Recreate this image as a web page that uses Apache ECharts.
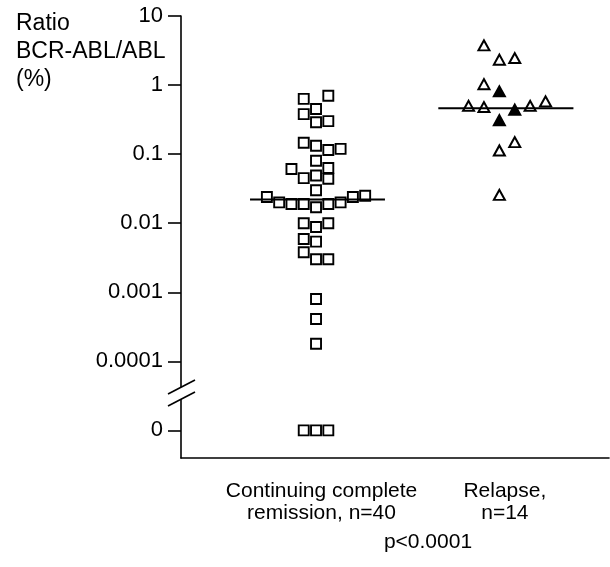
<!DOCTYPE html>
<html>
<head>
<meta charset="utf-8">
<script src="https://cdn.jsdelivr.net/npm/echarts@6/dist/echarts.min.js"></script>
<style>
  html, body { margin: 0; padding: 0; background: #fff; }
  #chart { width: 610px; height: 567px; }
</style>
</head>
<body>
<div id="chart"></div>
<script>
const groupNames = ['Continuing complete\nremission, n=40', 'Relapse,\nn=14'];
const pValueText = 'p<0.0001';
const yTickValues = [10, 1, 0.1, 0.01, 0.001, 0.0001, 0];
const yTickLabels = ['10', '1', '0.1', '0.01', '0.001', '0.0001', '0'];

// ratio in %, slot = horizontal position in the dot column
const remissionValues = [0.70, 0.63, 0.45, 0.38, 0.29, 0.30, 0.146, 0.132, 0.115, 0.119,
  0.080, 0.061, 0.063, 0.045, 0.049, 0.044, 0.030, 0.024, 0.020, 0.019,
  0.019, 0.019, 0.020, 0.024, 0.025, 0.017, 0.010, 0.0088, 0.010, 0.0059,
  0.0054, 0.0038, 0.0030, 0.0030, 0.0008, 0.00041, 0.00018, 0, 0, 0];
const remissionSlots = [1, -1, 0, -1, 0, 1, -1, 0, 1, 2,
  0, -2, 1, -1, 0, 1, 0, -4, -3, -2,
  -1, 1, 2, 3, 4, 0, -1, 0, 1, -1,
  0, -1, 0, 1, 0, 0, 0, -1, 0, 1];

const relapseValues = [3.75, 2.33, 2.46, 1.03, 0.81, 0.50, 0.48, 0.44, 0.50, 0.58, 0.31, 0.149, 0.113, 0.0257];
const relapseSlots = [-1, 0, 1, -1, 0, -2, -1, 1, 2, 3, 0, 1, 0, 0];
const relapseFilled = [0, 0, 0, 0, 1, 0, 0, 1, 0, 0, 1, 0, 0, 0];

const medians = [0.022, 0.46];

const FONT = "'Liberation Sans', Arial, Helvetica, sans-serif";
const ZERO_LOG = -5; // 0 is drawn one decade below 0.0001, past the break
const toLog = v => (v > 0 ? Math.log10(v) : ZERO_LOG);

const X_MIN = -0.7365, X_MAX = 1.598;
const SQ_STEP = 0.067, TRI_STEP = 0.084;
const medianSpan = [[-0.36, 0.376], [-0.333, 0.404]];

const chart = echarts.init(document.getElementById('chart'), null, { renderer: 'canvas' });

const tickLogs = yTickValues.map(toLog);

const option = {
  animation: false,
  textStyle: { fontFamily: FONT },
  title: {
    text: 'Ratio\nBCR-ABL/ABL\n(%)',
    left: 11,
    top: 5,
    textStyle: { fontFamily: FONT, fontSize: 23, lineHeight: 28, fontWeight: 'normal', color: '#000' }
  },
  grid: { left: 181, right: 1, top: 16, bottom: 109, containLabel: false, outerBoundsMode: 'none' },
  xAxis: {
    type: 'value',
    min: X_MIN,
    max: X_MAX,
    splitLine: { show: false },
    axisTick: { show: false },
    axisLine: { show: true, onZero: false, lineStyle: { color: '#000', width: 1.6 } },
    axisLabel: {
      customValues: [0.03, 1.03],
      formatter: v => (v < 0.5 ? groupNames[0] : groupNames[1]),
      margin: 22,
      fontSize: 21,
      lineHeight: 22,
      color: '#000',
      fontFamily: FONT
    }
  },
  yAxis: {
    type: 'value',
    min: -5.4,
    max: 1,
    splitLine: { show: false },
    axisLine: { show: true, onZero: false, lineStyle: { color: '#000', width: 1.6 } },
    axisTick: { show: true, customValues: tickLogs, length: 13, lineStyle: { color: '#000', width: 1.6 } },
    axisLabel: {
      customValues: tickLogs,
      showMinLabel: true,
      showMaxLabel: true,
      formatter: v => {
        const i = tickLogs.findIndex(t => Math.abs(t - v) < 1e-6);
        return i >= 0 ? yTickLabels[i] : '';
      },
      margin: 18,
      fontSize: 22,
      color: '#000',
      fontFamily: FONT
    }
  },
  series: [
    {
      name: 'remission',
      type: 'scatter',
      symbol: 'rect',
      symbolSize: 10,
      itemStyle: { color: '#fff', borderColor: '#000', borderWidth: 1.9, opacity: 1 },
      data: remissionValues.map((v, i) => [remissionSlots[i] * SQ_STEP, toLog(v)]),
      z: 2
    },
    {
      name: 'relapse',
      type: 'scatter',
      symbol: 'triangle',
      symbolSize: [11, 10],
      data: relapseValues.map((v, i) => ({
        value: [1 + relapseSlots[i] * TRI_STEP, toLog(v)],
        itemStyle: {
          color: relapseFilled[i] ? '#000' : '#fff',
          borderColor: '#000',
          borderWidth: 2,
          opacity: 1
        }
      })),
      z: 2
    },
    ...medians.map((m, g) => ({
      name: 'median' + g,
      type: 'line',
      symbol: 'none',
      lineStyle: { color: '#000', width: 2 },
      data: [[g + medianSpan[g][0], toLog(m)], [g + medianSpan[g][1], toLog(m)]],
      z: 3
    }))
  ]
};

chart.setOption(option);

// axis break marks and p value
const [ax, by] = chart.convertToPixel({ gridIndex: 0 }, [X_MIN, -4.46]);
chart.setOption({
  graphic: [
    { type: 'rect', shape: { x: ax - 3, y: by - 6, width: 6, height: 12 }, style: { fill: '#fff' }, z: 10 },
    { type: 'line', shape: { x1: ax - 13, y1: by + 1, x2: ax + 14, y2: by - 13 }, style: { stroke: '#000', lineWidth: 1.6 }, z: 11 },
    { type: 'line', shape: { x1: ax - 13, y1: by + 13, x2: ax + 14, y2: by - 1 }, style: { stroke: '#000', lineWidth: 1.6 }, z: 11 },
    {
      type: 'text',
      x: 428,
      y: 542,
      style: { text: pValueText, font: '21px ' + FONT, fill: '#000', textAlign: 'center', textVerticalAlign: 'middle' },
      z: 11
    }
  ]
});
</script>
</body>
</html>
